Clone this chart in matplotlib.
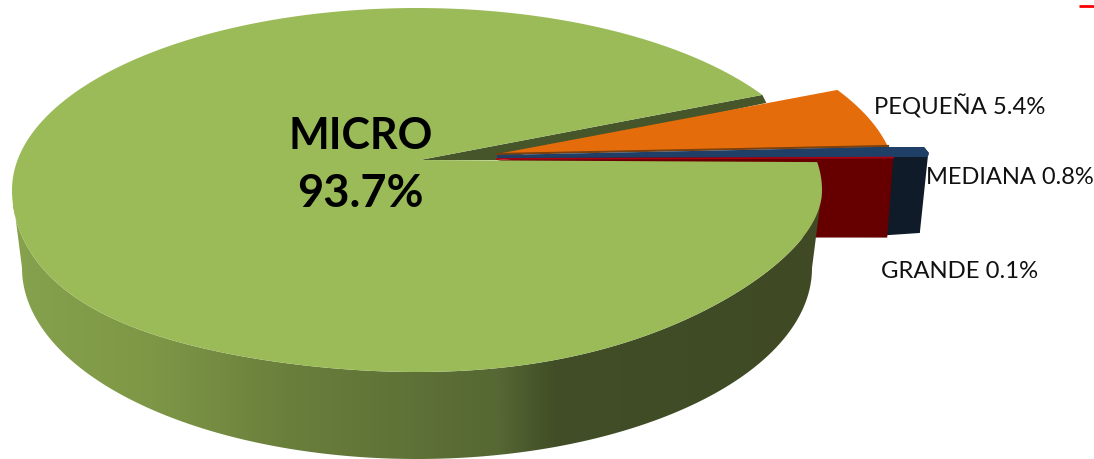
import numpy as np
import matplotlib
matplotlib.use("Agg")
import matplotlib.pyplot as plt
from matplotlib.colors import LinearSegmentedColormap
from matplotlib.patches import Polygon

plt.rcParams['font.family'] = ['Lato', 'DejaVu Sans']

# datos
sizes = ["MICRO", "PEQUEÑA", "MEDIANA", "GRANDE"]
shares = [93.7, 5.4, 0.8, 0.1]

# geometria de la elipse (pixeles de la imagen)
CX, CY, RX, RY = 417, 190, 405, 182
APEX_X, APEX_Y = 420, 160
BOT_CX, BOT_CY, BOT_RX, BOT_RY = 417, 268, 395, 191
START = 31.5  # angulo donde acaba MICRO y empieza PEQUEÑA
SKEW = 30  # la mitad inferior no es una elipse perfecta (perspectiva)

fig = plt.figure(figsize=(10.94, 4.59), dpi=100)
ax = fig.add_axes([0, 0, 1, 1])
ax.set_xlim(0, 1094)
ax.set_ylim(459, 0)
ax.axis("off")


def arc(t0, t1, cx=CX, cy=CY, rx=RX, ry=RY, n=200, skew=0):
    t = np.radians(np.linspace(t0, t1, n))
    c, s = np.cos(t), np.sin(t)
    r = np.where(s < 0, ry - skew * c ** 3, ry)
    return np.column_stack([cx + rx * c, cy - r * s])


# angulos de cada porcion a partir de los porcentajes
deg = [s * 3.6 for s in shares]
peq_a = (START - deg[1], START)
med_a = (peq_a[0] - deg[2], peq_a[0])
gra_a = (med_a[0] - deg[3], med_a[0])
mic_a = (START, START + deg[0])

# pared oscura del corte superior de MICRO
p_top = arc(START, START, n=1)[0]
ax.add_patch(Polygon([(APEX_X, APEX_Y), p_top, p_top + (4, 8), (497, 160)],
                     fc="#46552A", ec="none", zorder=1))

# PEQUEÑA
arc_peq = arc(peq_a[0], peq_a[1], cx=CX + 75, cy=CY - 5)
ax.add_patch(Polygon(np.vstack([[(497, 154)], arc_peq]), fc="#E46C0A", ec="none", zorder=2))
ax.plot([497, arc_peq[0][0]], [154, arc_peq[0][1] - 1], color="#7A4010", lw=1.5, zorder=2.5)

# MEDIANA
out_m = arc(med_a[0], med_a[0], cx=CX + 112, cy=CY - 8, n=1)[0]
ax.add_patch(Polygon([(497, 157), (886, 147), (924, 147), out_m, out_m + (-1, 4), out_m + (-9, 80), (860, 237)],
                     fc="#0F1B28", ec="none", zorder=3))
ax.add_patch(Polygon([(497, 155), (886, 147), (924, 147), out_m, out_m + (-1, 4), (497, 158)],
                     fc="#1F3F66", ec="none", zorder=3.2))

# GRANDE
out_g = arc(gra_a[0], gra_a[0], cx=CX + 76, cy=CY - 4.5, n=1)[0]
ax.add_patch(Polygon([(497, 160), out_g, out_g + (-6, 80), (800, 237.5)],
                     fc="#660000", ec="none", zorder=4))
ax.plot([497, out_g[0]], [159, out_g[1]], color="#B00010", lw=1.2, zorder=4.2)

# lateral de MICRO con degradado
side_top = arc(180, 360, skew=SKEW)
side_bot = arc(360, 180, cx=BOT_CX, cy=BOT_CY, rx=BOT_RX, ry=BOT_RY)
side = Polygon(np.vstack([side_top, side_bot]), fc="none", ec="none", zorder=5)
ax.add_patch(side)
cmap = LinearSegmentedColormap.from_list(
    "lado",
    [(0.0, "#86A24D"), (0.17, "#7E9746"), (0.34, "#6A7F3C"), (0.60, "#566833"),
     (0.67, "#414E27"), (1.0, "#3F4A25")])
grad = np.linspace(0, 1, 512).reshape(1, -1)
img = ax.imshow(grad, extent=[13, 822, 459, 160], cmap=cmap, aspect="auto", zorder=5.5)
img.set_clip_path(side)
ax.set_xlim(0, 1094)
ax.set_ylim(459, 0)

# cara superior de MICRO
top = np.vstack([[(APEX_X, APEX_Y)], arc(mic_a[0], mic_a[1], n=500, skew=SKEW)])
ax.add_patch(Polygon(top, fc="#9BBB59", ec="none", zorder=6))

# marca roja de la esquina
ax.plot([1079, 1094], [6, 6], color="#FF0000", lw=2, zorder=7, solid_capstyle="butt")

# textos
ax.text(361, 136, sizes[0], fontsize=31, fontweight="bold", ha="center", va="center", color="black", zorder=8)
ax.text(360, 194, f"{shares[0]}%", fontsize=32.5, fontweight="bold", ha="center", va="center", color="black", zorder=8)
ax.text(959.5, 106, f"{sizes[1]} {shares[1]}%", fontsize=17.2, ha="center", va="center", color="#111111", zorder=8)
ax.text(1009.5, 178, f"{sizes[2]} {shares[2]}%", fontsize=17, ha="center", va="center", color="#111111", zorder=8)
ax.text(960, 271, f"{sizes[3]} {shares[3]}%", fontsize=17.2, ha="center", va="center", color="#111111", zorder=8)

fig.savefig("out.png", dpi=100, facecolor="white")
